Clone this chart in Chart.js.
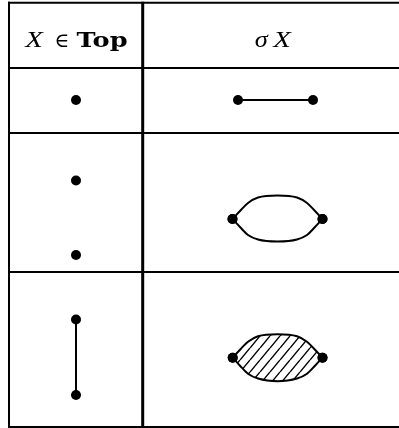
<!DOCTYPE html>
<html>
<head>
<meta charset="utf-8">
<script src="https://cdn.jsdelivr.net/npm/chart.js@4"></script>
<style>
  html, body { margin: 0; padding: 0; background: #fff; }
  canvas { display: block; }
</style>
</head>
<body>
<canvas id="sigmaChart" width="399" height="428"></canvas>
<script>
// --- datos del diagrama (coordenadas en unidades de la escala) ---
const headers = ['X ∈ Top', 'σX'];
const rowRules = [2.7, 68, 133, 272, 427];
const colRules = [9, 142.7];

// columna izquierda: X
const pointX = [{ x: 76, y: 100 }];
const twoPointsX = [{ x: 76, y: 180.5 }, { x: 76, y: 255 }];
const intervalX = [{ x: 76, y: 319.5 }, { x: 76, y: 395 }];

// columna derecha: sigma X
const sigmaPoint = [{ x: 238, y: 100 }, { x: 313, y: 100 }];
const sigmaTwoTop = [
    { x: 232.5, y: 219 }, { x: 240, y: 211 }, { x: 248, y: 203 }, { x: 258, y: 197.5 }, { x: 277.5, y: 195.5 },
    { x: 297, y: 197.5 }, { x: 307, y: 203 }, { x: 315, y: 211 }, { x: 322.5, y: 219 }
];
const sigmaTwoBottom = [
    { x: 232.5, y: 219 }, { x: 240, y: 227 }, { x: 248, y: 235 }, { x: 258, y: 239.5 }, { x: 277.5, y: 241.5 },
    { x: 297, y: 239.5 }, { x: 307, y: 235 }, { x: 315, y: 227 }, { x: 322.5, y: 219 }
];
const sigmaIntTop = [
    { x: 232.7, y: 357.7 }, { x: 240, y: 349.7 }, { x: 248, y: 341.7 }, { x: 258, y: 336.2 }, { x: 277.5, y: 334.2 },
    { x: 297, y: 336.2 }, { x: 307, y: 341.7 }, { x: 315, y: 349.7 }, { x: 322.5, y: 357.7 }
];
const sigmaIntBottom = [
    { x: 232.7, y: 357.7 }, { x: 240, y: 365.7 }, { x: 248, y: 373.7 }, { x: 258, y: 378.5 }, { x: 277.5, y: 381.2 },
    { x: 297, y: 378.5 }, { x: 307, y: 373.7 }, { x: 315, y: 365.7 }, { x: 322.5, y: 357.7 }
];

// patrón de rayado diagonal
function hatchPattern() {
    const w = 10, h = 12;
    const c = document.createElement('canvas');
    c.width = w; c.height = h;
    const g = c.getContext('2d');
    g.strokeStyle = '#000';
    g.lineWidth = 1.4;
    g.beginPath();
    g.moveTo(0, h); g.lineTo(w, 0);
    g.moveTo(-w, h); g.lineTo(0, 0);
    g.moveTo(w, h); g.lineTo(2 * w, 0);
    g.stroke();
    return g.createPattern(c, 'repeat');
}

const ctx = document.getElementById('sigmaChart').getContext('2d');

// puntos con radio solo en los extremos
function endRadius(arr) {
    return arr.map((p, i) => (i === 0 || i === arr.length - 1) ? 5 : 0);
}

const tablePlugin = {
    id: 'tablePlugin',
    beforeDatasetsDraw(chart) {
        const c = chart.ctx;
        const xs = chart.scales.x, ys = chart.scales.y;
        c.save();
        c.strokeStyle = '#000';
        // líneas horizontales
        c.lineWidth = 2;
        rowRules.forEach(r => {
            const y = ys.getPixelForValue(r);
            c.beginPath();
            c.moveTo(xs.getPixelForValue(colRules[0]) - 1, y);
            c.lineTo(xs.getPixelForValue(399), y);
            c.stroke();
        });
        // líneas verticales
        colRules.forEach((r, i) => {
            const x = xs.getPixelForValue(r);
            c.lineWidth = i === 0 ? 2 : 3;
            c.beginPath();
            c.moveTo(x, ys.getPixelForValue(rowRules[0]) - 1);
            c.lineTo(x, ys.getPixelForValue(rowRules[rowRules.length - 1]) + 1);
            c.stroke();
        });

        // encabezados
        c.fillStyle = '#000';
        c.textBaseline = 'alphabetic';
        const baseY = ys.getPixelForValue(46.7);
        const parts1 = headers[0].split(' ');
        drawParts(c, parts1,
            ['italic 24px "Liberation Serif"', '20px "DejaVu Serif"', 'bold 21px "DejaVu Serif"'],
            [1.2, 1, 1.22], [12, 9], xs.getPixelForValue(75.4), baseY);

        const parts2 = [headers[1].charAt(0), headers[1].slice(1)];
        drawParts(c, parts2,
            ['italic 24px "Liberation Serif"', 'italic 24px "Liberation Serif"'],
            [1.1, 1.2], [3], xs.getPixelForValue(273.5), baseY);
        c.restore();
    }
};

function drawParts(c, parts, fonts, stretch, gaps, cx, baseY) {
    const m = parts.map((p, i) => {
        c.font = fonts[i];
        const mm = c.measureText(p);
        return { l: mm.actualBoundingBoxLeft * stretch[i], r: mm.actualBoundingBoxRight * stretch[i] };
    });
    let total = 0;
    m.forEach((mm, i) => { total += mm.l + mm.r + (i < gaps.length ? gaps[i] : 0); });
    let x = cx - total / 2;
    parts.forEach((p, i) => {
        c.save();
        c.font = fonts[i];
        c.textAlign = 'left';
        c.translate(x + m[i].l, baseY);
        c.scale(stretch[i], 1);
        c.fillText(p, 0, 0);
        c.restore();
        x += m[i].l + m[i].r + (i < gaps.length ? gaps[i] : 0);
    });
}

const dotStyle = {
    pointRadius: 5,
    pointBackgroundColor: '#000',
    pointBorderWidth: 0,
    borderColor: '#000',
    borderWidth: 2,
    clip: false
};

const curveStyle = { ...dotStyle, type: 'line', cubicInterpolationMode: 'monotone' };

new Chart(ctx, {
    type: 'scatter',
    data: {
        datasets: [
            { ...dotStyle, type: 'scatter', data: pointX },
            { ...dotStyle, type: 'scatter', data: twoPointsX },
            { ...dotStyle, type: 'line', data: intervalX, tension: 0, fill: false },
            { ...dotStyle, type: 'line', data: sigmaPoint, tension: 0, fill: false },
            { ...curveStyle, data: sigmaTwoTop, pointRadius: endRadius(sigmaTwoTop), fill: false },
            { ...curveStyle, data: sigmaTwoBottom, pointRadius: endRadius(sigmaTwoBottom), fill: false },
            { ...curveStyle, data: sigmaIntTop, pointRadius: endRadius(sigmaIntTop), fill: '+1', backgroundColor: hatchPattern() },
            { ...curveStyle, data: sigmaIntBottom, pointRadius: endRadius(sigmaIntBottom), fill: false }
        ]
    },
    options: {
        responsive: false,
        animation: false,
        devicePixelRatio: 1,
        layout: { padding: 0, autoPadding: false },
        plugins: {
            legend: { display: false },
            tooltip: { enabled: false }
        },
        scales: {
            x: { type: 'linear', min: 0, max: 399, display: false },
            y: { type: 'linear', min: 0, max: 428, reverse: true, display: false }
        }
    },
    plugins: [tablePlugin]
});
</script>
</body>
</html>
